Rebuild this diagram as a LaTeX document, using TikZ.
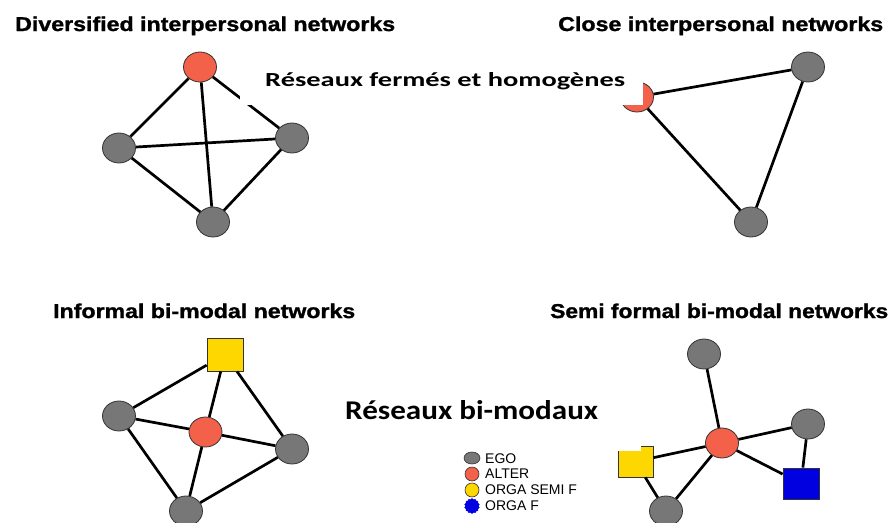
\documentclass[tikz,border=0pt]{standalone}
\usepackage{fontspec}
\setmainfont{Liberation Sans}
\newfontfamily\calib{Carlito}
\newfontfamily\heavy[FakeBold=1.2]{Liberation Sans Bold}
\usetikzlibrary{shapes.geometric}
\definecolor{egogray}{HTML}{777777}
\definecolor{altred}{HTML}{F4614B}
\definecolor{orgyel}{HTML}{FFD700}
\definecolor{orgblue}{HTML}{0000E0}
\definecolor{outl}{HTML}{333333}
\begin{document}
\begin{tikzpicture}[x=1pt,y=-1pt,
 nd/.style={ellipse, draw=outl, line width=0.8pt, minimum width=33pt, minimum height=30pt, inner sep=0pt},
 ego/.style={nd, fill=egogray},
 alter/.style={nd, fill=altred},
 sq/.style={rectangle, draw=outl, line width=0.8pt, inner sep=0pt},
 semi/.style={sq, fill=orgyel, minimum width=36pt, minimum height=33pt},
 forg/.style={sq, fill=orgblue, minimum width=36pt, minimum height=31pt},
 edge/.style={line width=2.7pt, black},
 title/.style={anchor=base west, inner sep=0pt, font=\heavy},
 frtext/.style={anchor=base west, inner sep=0pt, font=\calib\bfseries},
 occl/.style={fill=white},
 legtext/.style={anchor=west, inner sep=0pt, font=\fontsize{14}{14}\selectfont},
 legicon/.style={circle, draw=outl, line width=0.6pt, minimum size=14pt, inner sep=0pt}]
\fill[white] (0,0) rectangle (894,522);
\useasboundingbox (0,0) rectangle (894,522);

% ---- Diversified interpersonal networks
\node[alter] (a1) at (200,67) {};
\node[ego] (l1) at (119,148) {};
\node[ego] (r1) at (292,138) {};
\node[ego] (b1) at (213,222) {};
\draw[edge] (a1) -- (l1);
\draw[edge] (a1) -- (r1);
\draw[edge] (a1) -- (b1);
\draw[edge] (l1) -- (r1);
\draw[edge] (l1) -- (b1);
\draw[edge] (r1) -- (b1);

% ---- Close interpersonal networks
\node[alter] (a2) at (637,97) {};
\node[ego] (r2) at (808,67) {};
\node[ego] (b2) at (751,222) {};
\draw[edge] (a2) -- (r2);
\draw[edge] (a2) -- (b2);
\draw[edge] (r2) -- (b2);

% ---- Informal bi-modal networks
\node[semi] (y3) at (225,354.5) {};
\node[ego] (l3) at (119,416) {};
\node[alter] (a3) at (205.5,432) {};
\node[ego] (r3) at (292,449) {};
\node[ego] (b3) at (186,511) {};
\draw[edge] (y3) -- (l3);
\draw[edge] (y3) -- (a3);
\draw[edge] (y3) -- (r3);
\draw[edge] (l3) -- (a3);
\draw[edge] (l3) -- (b3);
\draw[edge] (a3) -- (r3);
\draw[edge] (a3) -- (b3);
\draw[edge] (r3) -- (b3);

% ---- Semi formal bi-modal networks
\node[ego] (t4) at (704,354) {};
\node[alter] (a4) at (722,443) {};
\node[ego] (r4) at (808,424) {};
\node[forg] (f4) at (801,483.5) {};
\node[semi, minimum height=31pt, minimum width=35pt] (y4) at (635.5,461.5) {};
\node[ego] (b4) at (666,511) {};
\draw[edge] (t4) -- (a4);
\draw[edge] (a4) -- (r4);
\draw[edge] (a4) -- (f4);
\draw[edge] (r4) -- (f4);
\draw[edge] (y4) -- (a4);
\draw[edge] (y4) -- (b4);
\draw[edge] (a4) -- (b4);

% ---- occluding text backgrounds
\path[occl] (240,60) rectangle (643,105);
\path[occl] (320,380) rectangle (641,451);

% ---- titles
\node[title] (t1) at (15,31) {\resizebox{380pt}{14.5pt}{Diversified interpersonal networks}};
\node[title] (t2) at (558,31) {\resizebox{325pt}{14.5pt}{Close interpersonal networks}};
\node[title] (t3) at (53,318) {\resizebox{302pt}{14.5pt}{Informal bi-modal networks}};
\node[title] (t4t) at (550,318) {\resizebox{338pt}{14.5pt}{Semi formal bi-modal networks}};
\node[frtext] (fr1) at (265,86) {\resizebox{360pt}{14pt}{Réseaux fermés et homogènes}};
\node[frtext] (fr2) at (345,419) {\resizebox{253pt}{19pt}{Réseaux bi-modaux}};

% ---- legend
\node[ellipse, draw=outl, line width=0.6pt, fill=egogray, minimum width=16pt, minimum height=12pt, inner sep=0pt] (ig) at (472,458) {};
\node[legicon, fill=altred] (ia) at (472,474) {};
\node[legicon, fill=orgyel] (iy) at (472,490) {};
\node[star, star points=14, star point ratio=1.15, draw=orgblue, fill=orgblue, minimum size=15pt, inner sep=0pt] (ib) at (472,506) {};
\node[legtext] (lg1) at (485,459) {EGO};
\node[legtext] (lg2) at (485,474) {ALTER};
\node[legtext] (lg3) at (485,490) {ORGA SEMI F};
\node[legtext] (lg4) at (485,506) {ORGA F};
\end{tikzpicture}
\end{document}
